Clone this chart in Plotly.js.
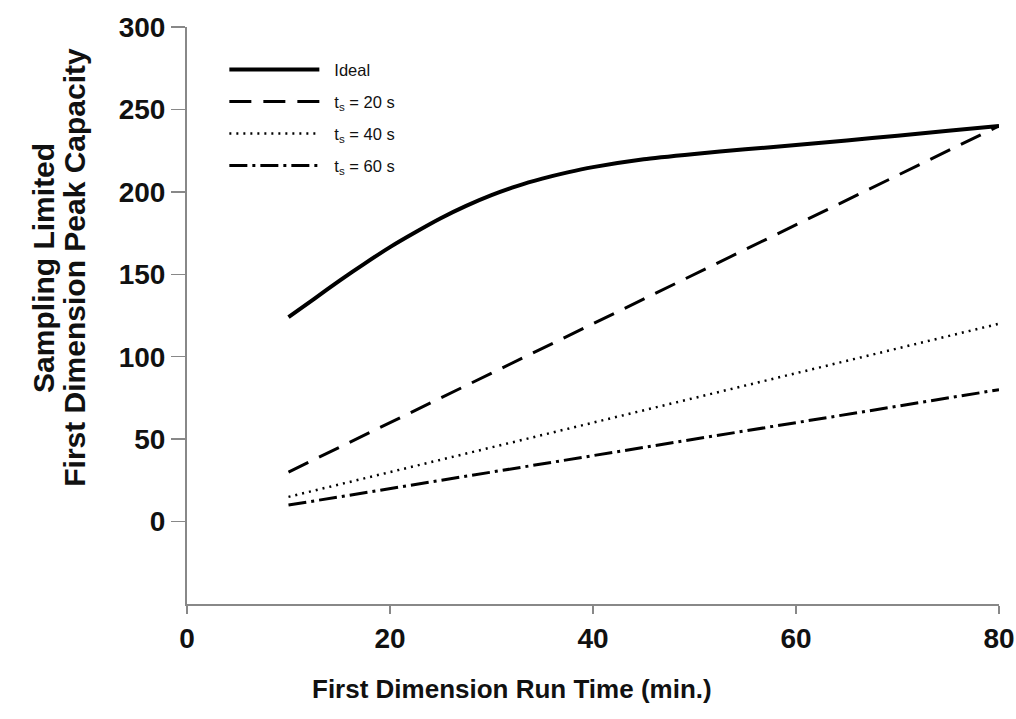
<!DOCTYPE html>
<html>
<head>
<meta charset="utf-8">
<script src="https://cdn.plot.ly/plotly-3.0.1.min.js"></script>
<style>
html,body{margin:0;padding:0;background:#fff;}
#chart{width:1016px;height:719px;}
</style>
</head>
<body>
<div id="chart"></div>
<script>
// Data
var idealTime = [10, 12.5, 15, 17.5, 20, 22.5, 25, 27.5, 30, 32.5, 35, 37.5, 40, 45, 50, 55, 60, 65, 70, 75, 80];
var idealCapacity = [124, 135, 146, 156.5, 166.5, 175.5, 184, 191.5, 198, 203.5, 208, 211.8, 215, 219.8, 223, 225.8, 228.4, 231.2, 234.1, 237, 240];
var runTime = [10, 20, 30, 40, 50, 60, 70, 80];
var ts20 = [30, 60, 90, 120, 150, 180, 210, 240];
var ts40 = [15, 30, 45, 60, 75, 90, 105, 120];
var ts60 = [10, 20, 30, 40, 50, 60, 70, 80];
var seriesNames = ['Ideal', 't<sub>s</sub> = 20 s', 't<sub>s</sub> = 40 s', 't<sub>s</sub> = 60 s'];
var xTicks = [0, 20, 40, 60, 80];
var yTicks = [0, 50, 100, 150, 200, 250, 300];
var yTitleLines = ['Sampling Limited', 'First Dimension Peak Capacity'];
var xTitle = 'First Dimension Run Time (min.)';

var fontFam = 'Liberation Sans, Arial, sans-serif';

var traces = [
  {x: idealTime, y: idealCapacity, name: seriesNames[0], legendgroup: 'a', mode: 'lines',
   line: {color: '#000', width: 4, shape: 'spline', smoothing: 0.5}},
  {x: runTime, y: ts20, name: seriesNames[1], legendgroup: 'b', mode: 'lines',
   line: {color: '#000', width: 3, dash: '22px,12px'}},
  {x: runTime, y: ts40, name: seriesNames[2], legendgroup: 'c', mode: 'lines',
   line: {color: '#000', width: 2.5, dash: '2px,5px'}},
  {x: runTime, y: ts60, name: seriesNames[3], legendgroup: 'd', mode: 'lines',
   line: {color: '#000', width: 3, dash: '18px,5px,3px,5px'}}
];

var axisCommon = {
  showgrid: false, zeroline: false, showline: true, linecolor: '#888', linewidth: 2,
  ticks: 'outside', tickwidth: 1.5, tickcolor: '#888',
  tickfont: {family: fontFam, size: 28, color: '#111', weight: 'bold'}
};

var layout = {
  width: 1016, height: 719,
  margin: {l: 187, r: 17, t: 27, b: 115},
  paper_bgcolor: '#fff', plot_bgcolor: '#fff',
  font: {family: fontFam, color: '#111'},
  showlegend: true,
  legend: {
    x: 0.046, y: 0.956, xanchor: 'left', yanchor: 'top',
    bgcolor: 'rgba(0,0,0,0)', font: {family: fontFam, size: 16.5, color: '#111'},
    itemwidth: 100, tracegroupgap: 7.5, traceorder: 'grouped'
  },
  xaxis: Object.assign({}, axisCommon, {range: [0, 80], tickvals: xTicks, ticklen: 8}),
  yaxis: Object.assign({}, axisCommon, {range: [-50, 300], tickvals: yTicks, ticklen: 14}),
  annotations: [
    {text: '<b>' + xTitle + '</b>', xref: 'paper', yref: 'paper',
     x: 0.4, y: -0.148, xanchor: 'center', yanchor: 'middle', showarrow: false,
     font: {family: fontFam, size: 26, color: '#111'}},
    {text: '<b>' + yTitleLines[0] + '</b>', xref: 'paper', yref: 'paper',
     x: -0.177, y: 0.583, xanchor: 'center', yanchor: 'middle', textangle: -90, showarrow: false,
     font: {family: fontFam, size: 30, color: '#111'}},
    {text: '<b>' + yTitleLines[1] + '</b>', xref: 'paper', yref: 'paper',
     x: -0.139, y: 0.583, xanchor: 'center', yanchor: 'middle', textangle: -90, showarrow: false,
     font: {family: fontFam, size: 30, color: '#111'}}
  ]
};

Plotly.newPlot('chart', traces, layout, {staticPlot: true}).then(function(gd){
  var paths = gd.querySelectorAll('.legend .legendlines path');
  paths.forEach(function(p){ p.setAttribute('d', 'M5,0h90'); });
});
</script>
</body>
</html>
